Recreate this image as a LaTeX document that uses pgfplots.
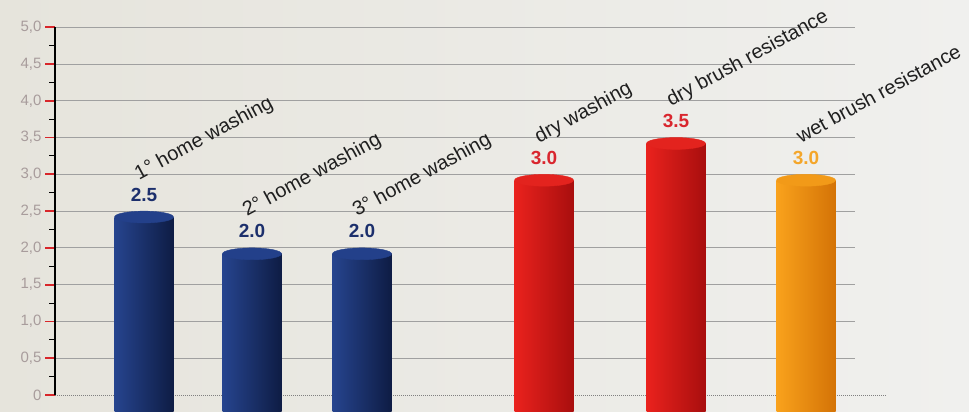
\documentclass[border=0pt]{standalone}
\usepackage{fontspec}
\setmainfont{Liberation Sans}
\usepackage{pgfplots}
\pgfplotsset{compat=1.18}
\usepackage{pgfplotstable}
\definecolor{navyL}{HTML}{26448E}
\definecolor{navyR}{HTML}{0E1C44}
\definecolor{navyCap}{HTML}{23408A}
\definecolor{navyT}{HTML}{1C2F6C}
\definecolor{redL}{HTML}{EA221D}
\definecolor{redR}{HTML}{A80E0E}
\definecolor{redCap}{HTML}{E3231E}
\definecolor{redT}{HTML}{D9262E}
\definecolor{orL}{HTML}{F9A21C}
\definecolor{orR}{HTML}{D47306}
\definecolor{orCap}{HTML}{F29A18}
\definecolor{orT}{HTML}{F4A62A}
\definecolor{tickgray}{HTML}{A89C9C}
\definecolor{tickred}{HTML}{D8262A}
\definecolor{gridgray}{HTML}{A0A0A0}
\definecolor{bgL}{HTML}{E6E4DC}
\definecolor{bgM}{HTML}{F7F7F5}
\definecolor{bgR}{HTML}{F0F0EE}

\pgfplotstableread[col sep=comma]{
x,v,lab
1.44,2.5,1° home washing
2.52,2.0,2° home washing
3.62,2.0,3° home washing
}\tblue
\pgfplotstableread[col sep=comma]{
x,v,lab
5.44,3.0,dry washing
6.76,3.5,dry brush resistance
}\tred
\pgfplotstableread[col sep=comma]{
x,v,lab
8.06,3.0,wet brush resistance
}\torange

% one cylinder: #1 table, #2 row index, #3 next index, #4 left colour, #5 right colour, #6 cap colour, #7 value colour
\newcommand{\cylbar}[7]{%
\addplot[ybar, bar width=59pt, bar shift=0pt, draw=none, left color=#4, right color=#5,
  skip coords between index={0}{#2}, skip coords between index={#3}{100}]
  table[x=x, y expr=\thisrow{v}+0.15]{#1};
\addplot[only marks, color=#6, mark=*, mark size=29.5pt,
  mark options={yscale=0.2, draw=#6, fill=#6},
  skip coords between index={0}{#2}, skip coords between index={#3}{100},
  point meta=explicit,
  nodes near coords={\pgfmathprintnumber[fixed,fixed zerofill,precision=1]{\pgfplotspointmeta}},
  nodes near coords style={font=\fontsize{19}{22}\selectfont\bfseries, text=#7, anchor=base, yshift=16pt}]
  table[x=x, y expr=\thisrow{v}+0.15, meta=v]{#1};
\addplot[draw=none, mark=none, point meta=explicit symbolic, nodes near coords,
  skip coords between index={0}{#2}, skip coords between index={#3}{100},
  nodes near coords style={font=\fontsize{20}{24}\selectfont, text=black!88, anchor=base west, inner sep=0pt, xshift=-5pt, yshift=31pt, rotate=28.5}]
  table[x=x, y expr=\thisrow{v}+0.23, meta=lab]{#1};
}

\begin{document}
\begin{tikzpicture}
\useasboundingbox (0,0) rectangle (969pt,412pt);
\shade[left color=bgL, middle color=bgM, right color=bgR] (0,0) rectangle (969pt,412pt);
\begin{axis}[
  at={(55pt,0pt)}, anchor=south west,
  scale only axis, width=800pt, height=412pt,
  xmin=0.55, xmax=8.55, ymin=0, ymax=5.6,
  clip=false,
  axis lines*=left, axis line style={draw=none},
  xtick=\empty,
  ytick={0.73,1.23,1.73,2.23,2.73,3.23,3.73,4.23,4.73,5.23},
  yticklabels={{0,5},{1,0},{1,5},{2,0},{2,5},{3,0},{3,5},{4,0},{4,5},{5,0}},
  extra y ticks={0.23}, extra y tick labels={0},
  extra y tick style={ymajorgrids=false},
  minor ytick={0.48,0.98,1.48,1.98,2.48,2.98,3.48,3.98,4.48,4.98},
  ymajorgrids,
  grid style={draw=gridgray, line width=1pt},
  tick align=outside,
  major tick length=10pt, minor tick length=6pt,
  major tick style={draw=tickred, line width=1.8pt},
  minor tick style={draw=black, line width=1pt},
  yticklabel style={font=\fontsize{15}{18}\selectfont, text=tickgray},
  /pgf/number format/assume math mode=true,
]
\draw[gray, densely dotted, line width=1pt] (axis cs:0.55,0.23) -- (axis cs:8.87,0.23);
\draw[black, line width=1.8pt] (axis cs:0.55,0.23) -- (axis cs:0.55,5.23);

\cylbar{\tblue}{0}{1}{navyL}{navyR}{navyCap}{navyT}
\cylbar{\tblue}{1}{2}{navyL}{navyR}{navyCap}{navyT}
\cylbar{\tblue}{2}{3}{navyL}{navyR}{navyCap}{navyT}
\cylbar{\tred}{0}{1}{redL}{redR}{redCap}{redT}
\cylbar{\tred}{1}{2}{redL}{redR}{redCap}{redT}
\cylbar{\torange}{0}{1}{orL}{orR}{orCap}{orT}
\end{axis}
\end{tikzpicture}
\end{document}
